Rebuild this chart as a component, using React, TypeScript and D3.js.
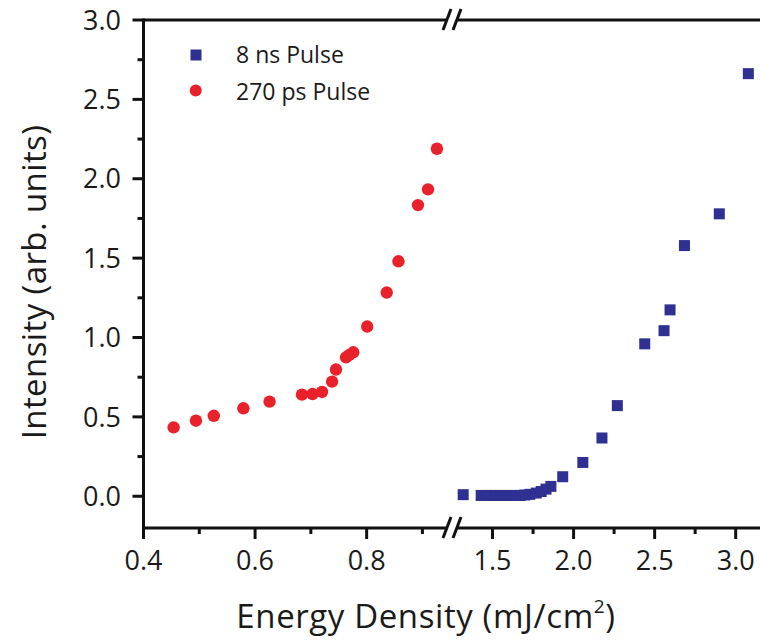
import React, { useRef, useEffect } from 'react';
import * as d3 from 'd3';

// 270 ps pulse (left segment of the broken x axis)
const psEnergy = [0.454, 0.494, 0.526, 0.579, 0.626, 0.684, 0.703, 0.720, 0.738, 0.745, 0.763, 0.769, 0.776, 0.801, 0.836, 0.857, 0.892, 0.910, 0.926];
const psIntensity = [0.434, 0.476, 0.507, 0.554, 0.596, 0.640, 0.644, 0.657, 0.722, 0.798, 0.875, 0.890, 0.907, 1.069, 1.283, 1.480, 1.834, 1.933, 2.189];

// 8 ns pulse (right segment)
const nsEnergy = [1.319, 1.43, 1.46, 1.49, 1.52, 1.55, 1.58, 1.61, 1.64, 1.67, 1.70, 1.73, 1.77, 1.80, 1.83, 1.86, 1.933, 2.057, 2.175, 2.270, 2.439, 2.558, 2.595, 2.684, 2.899, 3.078];
const nsIntensity = [0.01, 0.005, 0.005, 0.005, 0.005, 0.005, 0.005, 0.005, 0.005, 0.005, 0.008, 0.012, 0.02, 0.03, 0.045, 0.062, 0.123, 0.213, 0.367, 0.571, 0.960, 1.043, 1.174, 1.579, 1.779, 2.662];

const leftMajor = [0.4, 0.6, 0.8];
const leftMinor = [0.5, 0.7, 0.9];
const rightMajor = [1.5, 2.0, 2.5, 3.0];
const rightMinor = [1.75, 2.25, 2.75];
const yMajor = [0, 0.5, 1.0, 1.5, 2.0, 2.5, 3.0];
const yMinor = [0.25, 0.75, 1.25, 1.75, 2.25, 2.75];

const legendItems = ['8 ns Pulse', '270 ps Pulse'];

const width = 760;
const height = 640;
const font = "'Open Sans', 'Noto Sans', sans-serif";
const red = '#e8212a';
const blue = '#2e3192';

export default function App() {
  const ref = useRef<SVGSVGElement>(null);

  useEffect(() => {
    const svg = d3.select(ref.current);
    svg.selectAll('*').remove();

    const x0 = 143.5, xBreak = 452, xEnd = 760;
    const yTop = 20, yBot = 528;

    const xl = d3.scaleLinear().domain([0.4, 0.953]).range([x0, xBreak]);
    const xr = d3.scaleLinear().domain([1.25, 3.15]).range([xBreak, xEnd]);
    const y = d3.scaleLinear().domain([-0.2, 3.0]).range([yBot, yTop]);

    const ax = svg.append('g').attr('stroke', '#111').attr('stroke-width', 3).attr('fill', 'none');

    // spines with a gap at the break
    const gap = 5;
    [yTop, yBot].forEach(yy => {
      ax.append('line').attr('x1', x0).attr('x2', xBreak - gap).attr('y1', yy).attr('y2', yy);
      ax.append('line').attr('x1', xBreak + gap).attr('x2', xEnd + 5).attr('y1', yy).attr('y2', yy);
      [-5, 5].forEach(dx => {
        ax.append('line')
          .attr('x1', xBreak + dx - 4).attr('y1', yy + 10)
          .attr('x2', xBreak + dx + 4).attr('y2', yy - 11);
      });
    });
    ax.append('line').attr('x1', x0).attr('x2', x0).attr('y1', yTop - 1.5).attr('y2', yBot + 1.5);

    // ticks
    const xt = svg.append('g').attr('stroke', '#111').attr('stroke-width', 3);
    leftMajor.forEach(v => xt.append('line').attr('x1', xl(v)).attr('x2', xl(v)).attr('y1', yBot).attr('y2', yBot + 11));
    leftMinor.forEach(v => xt.append('line').attr('x1', xl(v)).attr('x2', xl(v)).attr('y1', yBot).attr('y2', yBot + 6));
    rightMajor.forEach(v => xt.append('line').attr('x1', xr(v)).attr('x2', xr(v)).attr('y1', yBot).attr('y2', yBot + 11));
    rightMinor.forEach(v => xt.append('line').attr('x1', xr(v)).attr('x2', xr(v)).attr('y1', yBot).attr('y2', yBot + 6));
    yMajor.forEach(v => xt.append('line').attr('x1', x0).attr('x2', x0 - 11).attr('y1', y(v)).attr('y2', y(v)));
    yMinor.forEach(v => xt.append('line').attr('x1', x0).attr('x2', x0 - 6).attr('y1', y(v)).attr('y2', y(v)));

    const labels = svg.append('g')
      .attr('font-family', font)
      .attr('font-size', 27)
      .attr('fill', '#1a1a1a');

    labels.selectAll('.xl')
      .data(leftMajor)
      .enter()
      .append('text')
      .attr('x', d => xl(d))
      .attr('y', 570)
      .attr('text-anchor', 'middle')
      .text(d => d3.format('.1f')(d));

    labels.selectAll('.xr')
      .data(rightMajor)
      .enter()
      .append('text')
      .attr('x', d => xr(d))
      .attr('y', 570)
      .attr('text-anchor', 'middle')
      .text(d => d3.format('.1f')(d));

    labels.selectAll('.yl')
      .data(yMajor)
      .enter()
      .append('text')
      .attr('x', 121)
      .attr('y', d => y(d))
      .attr('dy', '0.36em')
      .attr('text-anchor', 'end')
      .text(d => d3.format('.1f')(d));

    // axis titles
    const xTitle = svg.append('text')
      .attr('x', 426)
      .attr('y', 628)
      .attr('text-anchor', 'middle')
      .attr('font-family', font)
      .attr('font-size', 33)
      .attr('letter-spacing', 0.6)
      .attr('fill', '#1a1a1a');
    xTitle.append('tspan').text('Energy Density (mJ/cm');
    xTitle.append('tspan').attr('font-size', 19).attr('dy', -15).text('2');
    xTitle.append('tspan').attr('dy', 15).text(')');

    svg.append('text')
      .attr('transform', 'translate(46,282) rotate(-90)')
      .attr('text-anchor', 'middle')
      .attr('font-family', font)
      .attr('font-size', 33)
      .attr('letter-spacing', 0.4)
      .attr('fill', '#1a1a1a')
      .text('Intensity (arb. units)');

    // data
    const clip = svg.append('clipPath').attr('id', 'plotclip');
    clip.append('rect').attr('x', x0).attr('y', yTop).attr('width', xEnd - x0).attr('height', yBot - yTop);

    const marks = svg.append('g').attr('clip-path', 'url(#plotclip)');

    marks.selectAll('circle')
      .data(d3.zip(psEnergy, psIntensity))
      .enter()
      .append('circle')
      .attr('cx', d => xl(d[0]))
      .attr('cy', d => y(d[1]))
      .attr('r', 6.2)
      .attr('fill', red);

    const s = 11;
    marks.selectAll('rect')
      .data(d3.zip(nsEnergy, nsIntensity))
      .enter()
      .append('rect')
      .attr('x', d => xr(d[0]) - s / 2)
      .attr('y', d => y(d[1]) - s / 2)
      .attr('width', s)
      .attr('height', s)
      .attr('fill', blue);

    // legend
    const legend = svg.append('g').attr('font-family', font).attr('font-size', 23).attr('fill', '#1a1a1a');
    legend.append('rect').attr('x', 190.5).attr('y', 49.5).attr('width', 11).attr('height', 11).attr('fill', blue);
    legend.append('circle').attr('cx', 195.7).attr('cy', 90.5).attr('r', 6).attr('fill', red);
    legend.selectAll('text')
      .data(legendItems)
      .enter()
      .append('text')
      .attr('x', 236)
      .attr('y', (d, i) => 63 + i * 37)
      .text(d => d);
  }, []);

  return (
    <svg ref={ref} width={width} height={height}
      style={{ position: 'absolute', left: 0, top: 0, background: '#fff' }} />
  );
}
